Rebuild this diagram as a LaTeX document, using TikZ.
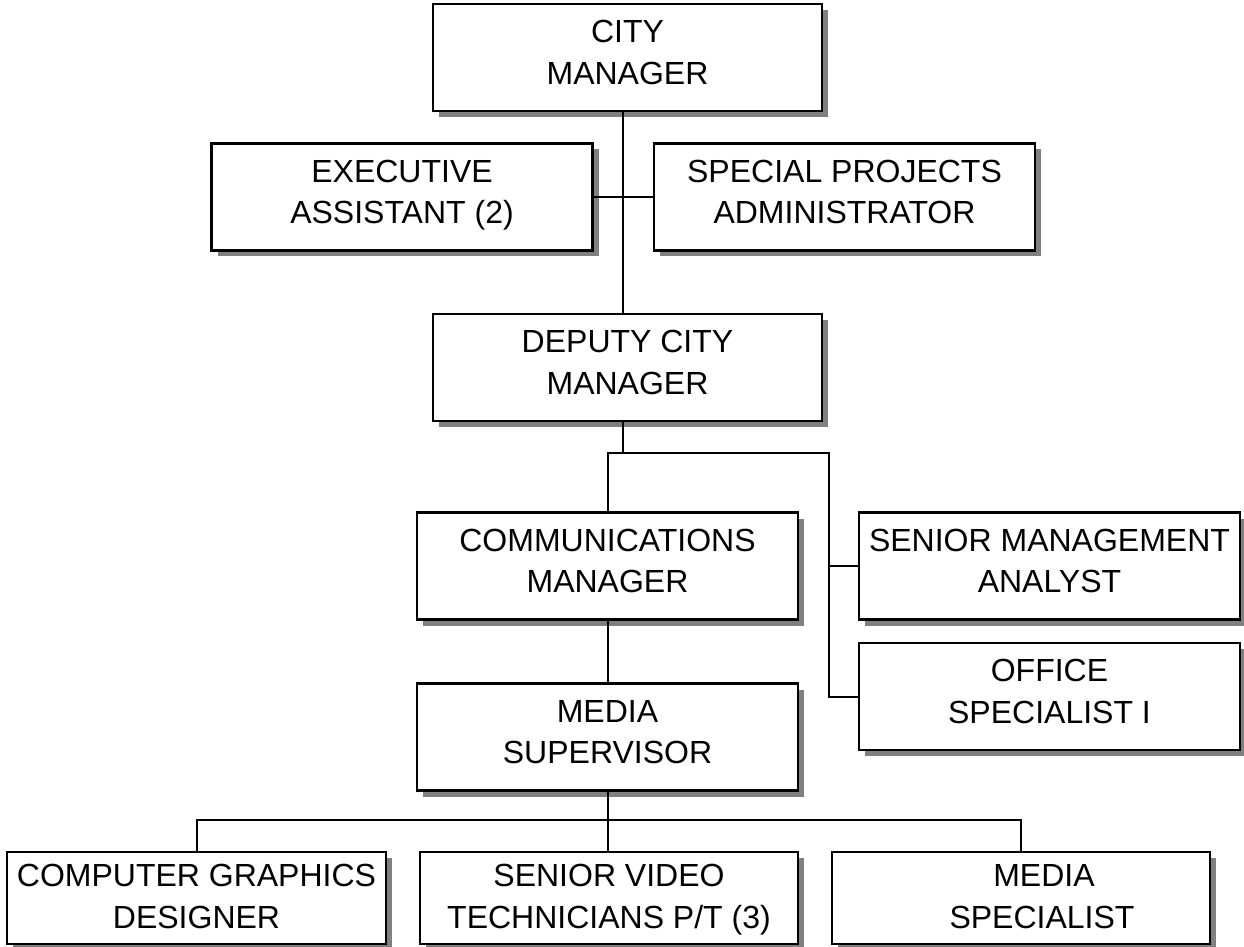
\documentclass[tikz,border=0pt]{standalone}
\usepackage{fontspec}
\setmainfont{Liberation Sans}
\usepackage{tikz}
\usetikzlibrary{shadows}

\begin{document}
\begin{tikzpicture}
		[x=0.5pt,y=-0.5pt,line cap=rect,
		%Styles
		unit/.style={draw,fill=white,line width=1.4pt,minimum width=190.5pt,minimum height=53.5pt,
			align=center,inner sep=0pt,text height=32.25pt,text depth=5.5pt,
			font=\fontsize{16pt}{20.75pt}\selectfont,
			drop shadow={shadow xshift=3pt,shadow yshift=-3pt,fill=black!50,opacity=1}},
		low unit/.style={unit,minimum height=46pt,text depth=2pt},
		link/.style={line width=1pt}
		]
		
		\useasboundingbox (0,0) rectangle (1244,947);
		
		%Branch points
		\coordinate (spine) at (623,197);
		\coordinate (split) at (623,453);
		\coordinate (side) at (829,453);
		\coordinate (bar) at (608,820);
		
		%The boxes
		\node[unit,minimum width=194.5pt] (cm) at (627.5,57.5) {CITY\\MANAGER};
		\node[unit] (ea) at (402,197) {EXECUTIVE\\ASSISTANT (2)};
		\node[unit] (spa) at (844.5,197) {SPECIAL PROJECTS\\ADMINISTRATOR};
		\node[unit,minimum width=194.5pt] (dcm) at (627.5,367.5) {DEPUTY CITY\\MANAGER};
		\node[unit] (com) at (607.5,566) {COMMUNICATIONS\\MANAGER};
		\node[unit] (sma) at (1049.5,566) {SENIOR MANAGEMENT\\ANALYST};
		\node[unit] (osi) at (1049.5,696.5) {OFFICE\\SPECIALIST I};
		\node[unit] (ms) at (607.5,737) {MEDIA\\SUPERVISOR};
		\node[low unit,minimum width=189.5pt] (cgd) at (196.5,898) {COMPUTER GRAPHICS\\DESIGNER};
		\node[low unit,minimum width=189pt] (svt) at (609,898) {SENIOR VIDEO\\TECHNICIANS P/T (3)};
		\node[low unit,minimum width=189pt] (msp) at (1021,898) {\hspace*{23pt}MEDIA\\\hspace*{21pt}SPECIALIST};
		
		%The lines
		\draw[link] (cm.south -| spine) -- (dcm.north -| spine);
		\draw[link] (ea.east) -- (spa.west);
		\draw[link] (dcm.south -| split) -- (split);
		\draw[link] (com.north) |- (side) |- (osi.west);
		\draw[link] (sma.west) -- (sma.west -| side);
		\draw[link] (com.south) -- (ms.north);
		\draw[link] (ms.south) -- (ms.south |- svt.north);
		\draw[link] (cgd.north) |- (bar) -| (msp.north);
	\end{tikzpicture}
\end{document}
